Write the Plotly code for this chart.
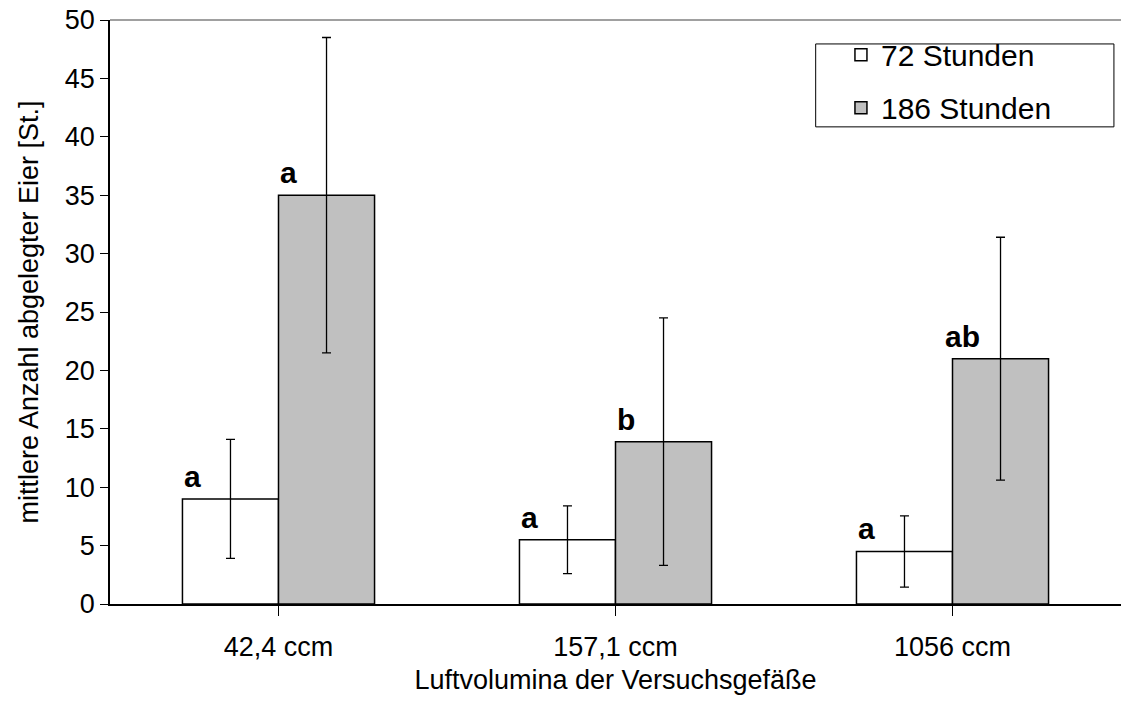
import plotly.graph_objects as go

categories = ["42,4 ccm", "157,1 ccm", "1056 ccm"]
mean_72h = [9.0, 5.5, 4.5]
err_72h = [5.1, 2.9, 3.05]
mean_186h = [35.0, 13.9, 21.0]
err_186h = [13.5, 10.6, 10.4]
letters_72h = ["a", "a", "a"]
letters_186h = ["a", "b", "ab"]
series_names = ["72 Stunden", "186 Stunden"]
y_ticks = list(range(0, 51, 5))

FONT = "Liberation Sans, Arial, sans-serif"
BARGAP = 0.43
fig = go.Figure()
fig.add_trace(go.Bar(
    x=list(range(len(categories))), y=mean_72h, name=series_names[0],
    marker=dict(color="white", line=dict(color="black", width=1.5)),
    error_y=dict(type="data", array=err_72h, visible=True, color="black", thickness=1.3, width=4.5),
    legendgroup="g1",
))
fig.add_trace(go.Bar(
    x=list(range(len(categories))), y=mean_186h, name=series_names[1],
    marker=dict(color="#c0c0c0", line=dict(color="black", width=1.5)),
    error_y=dict(type="data", array=err_186h, visible=True, color="black", thickness=1.3, width=4.5),
    legendgroup="g2",
))

half = (1 - BARGAP) / 2
for i in range(len(categories)):
    fig.add_annotation(x=i - half + 0.03, y=mean_72h[i], text="<b>%s</b>" % letters_72h[i],
                       showarrow=False, xanchor="center", yanchor="bottom", yshift=4,
                       font=dict(size=30, color="black", family=FONT))
    fig.add_annotation(x=i + 0.03, y=mean_186h[i], text="<b>%s</b>" % letters_186h[i],
                       showarrow=False, xanchor="center", yanchor="bottom", yshift=4,
                       font=dict(size=30, color="black", family=FONT))

# top border line of plot area
fig.add_shape(type="line", xref="paper", yref="paper", x0=0, x1=1, y0=1, y1=1,
              line=dict(color="#808080", width=1.5))
# legend box
fig.add_shape(type="rect", xref="paper", yref="paper", x0=0.698, x1=0.993, y0=0.817, y1=0.959,
              line=dict(color="black", width=1), fillcolor="white", layer="below")

fig.update_layout(
    width=1121, height=702,
    margin=dict(l=110, r=0, t=20, b=98),
    paper_bgcolor="white", plot_bgcolor="white",
    barmode="group", bargap=BARGAP, bargroupgap=0,
    font=dict(family=FONT, size=27, color="black"),
    showlegend=True,
    legend=dict(x=0.723, y=0.985, xanchor="left", yanchor="top", bgcolor="rgba(0,0,0,0)",
                borderwidth=0, tracegroupgap=11, font=dict(size=30, family=FONT),
                itemclick=False),
    xaxis=dict(
        tickmode="array", tickvals=list(range(len(categories))), ticktext=categories,
        range=[-0.5, len(categories) - 0.5],
        showline=True, linecolor="black", linewidth=1.5,
        ticks="outside", tickson="boundaries", ticklen=10, tickcolor="black", tickwidth=1,
        showgrid=False, zeroline=False, ticklabelstandoff=8,
        title=dict(text="Luftvolumina der Versuchsgefäße", standoff=9, font=dict(size=27)),
        tickfont=dict(size=27),
    ),
    yaxis=dict(
        range=[0, 50], tickmode="array", tickvals=y_ticks,
        showline=True, linecolor="black", linewidth=1.5,
        ticks="outside", ticklen=8, tickcolor="black", tickwidth=1,
        showgrid=False, zeroline=False,
        title=dict(text="mittlere Anzahl abgelegter Eier [St.]", standoff=18, font=dict(size=27)),
        tickfont=dict(size=27),
    ),
)
fig.write_html("out.html")
